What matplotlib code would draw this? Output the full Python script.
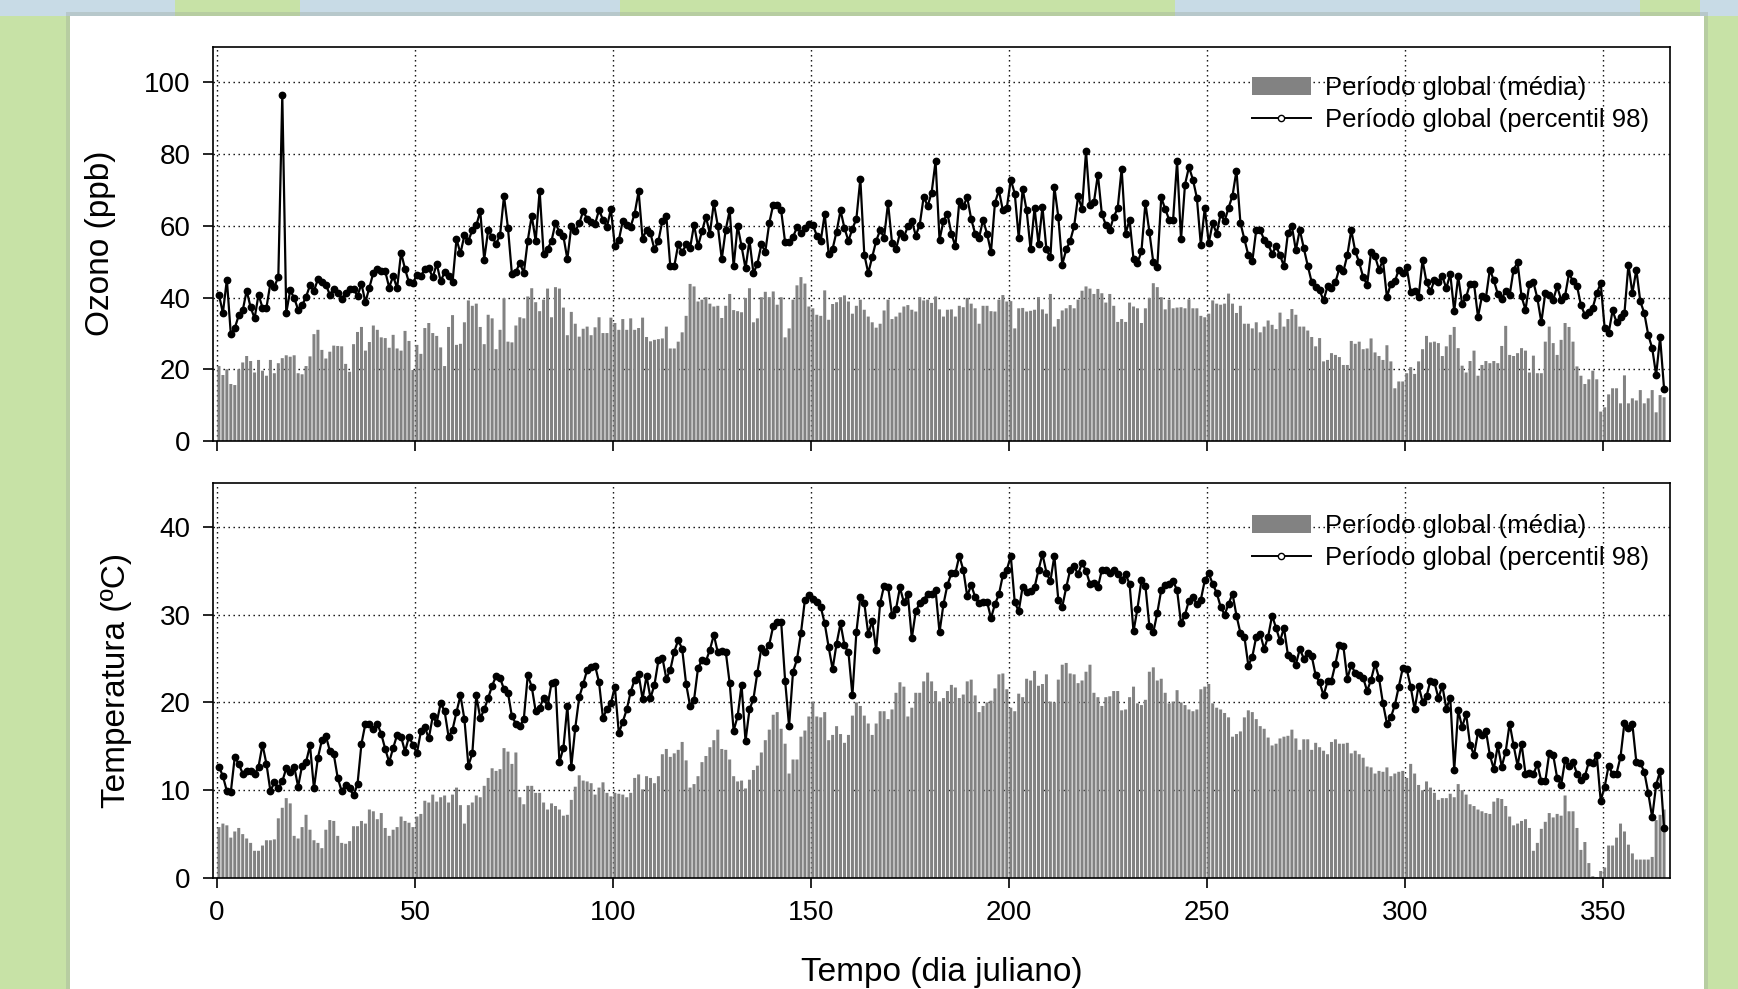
import numpy as np
import matplotlib
matplotlib.use("Agg")
import matplotlib.pyplot as plt
from matplotlib.patches import Rectangle
from matplotlib.lines import Line2D

plt.rcParams['font.family'] = ['Liberation Sans', 'DejaVu Sans']

# ---- data ----
days = np.arange(366) + 0.5

ozono_media = [
    20.9, 18.4, 20.0, 15.9, 15.6, 20.0, 21.9, 23.7, 22.3, 19.1,
    22.6, 19.6, 18.2, 22.6, 18.9, 21.7, 23.1, 23.9, 23.5, 23.9,
    18.9, 18.6, 20.9, 23.6, 29.8, 31.0, 25.4, 23.0, 24.9, 26.6,
    26.5, 26.4, 21.5, 19.3, 27.0, 30.4, 31.8, 25.2, 27.6, 32.2,
    31.0, 28.9, 28.7, 26.0, 29.6, 25.8, 25.2, 30.7, 27.9, 19.8,
    26.8, 24.3, 31.5, 32.9, 30.1, 29.3, 26.1, 20.9, 31.8, 35.1,
    26.8, 27.1, 33.1, 39.2, 37.7, 38.3, 31.8, 27.0, 35.2, 34.2,
    25.6, 31.0, 39.8, 27.7, 27.5, 32.2, 34.5, 34.2, 40.3, 42.6,
    38.7, 36.2, 39.4, 42.5, 34.5, 42.9, 42.5, 37.2, 29.5, 36.0,
    32.7, 29.1, 31.3, 31.9, 29.5, 31.7, 34.5, 30.1, 30.1, 34.4,
    32.9, 31.0, 34.0, 31.0, 34.2, 31.0, 31.5, 34.4, 29.0, 27.8,
    28.2, 28.4, 28.6, 31.9, 25.8, 25.8, 27.7, 30.3, 34.9, 43.8,
    43.1, 38.9, 39.4, 40.1, 38.3, 37.5, 37.7, 34.3, 37.7, 41.0,
    36.5, 36.2, 35.9, 39.9, 42.6, 33.1, 34.2, 40.1, 41.6, 40.1,
    41.7, 38.0, 40.1, 28.9, 31.4, 39.4, 43.4, 45.7, 43.9, 37.5,
    37.0, 35.2, 34.9, 42.0, 33.8, 38.2, 38.7, 40.1, 40.6, 38.9,
    35.5, 37.7, 39.4, 36.6, 34.7, 33.1, 31.6, 32.7, 36.4, 39.4,
    34.0, 34.7, 35.8, 37.5, 37.9, 36.6, 36.1, 40.1, 39.2, 39.4,
    38.5, 40.3, 36.7, 34.7, 36.6, 36.7, 34.7, 37.7, 37.3, 39.9,
    38.3, 37.0, 32.7, 37.7, 37.7, 36.2, 36.1, 39.4, 40.7, 38.9,
    39.0, 31.4, 37.0, 37.1, 36.1, 36.3, 36.6, 40.1, 36.7, 35.5,
    41.0, 31.9, 34.0, 36.4, 37.0, 37.9, 37.0, 39.4, 41.9, 43.1,
    42.5, 41.0, 42.4, 41.2, 38.6, 41.0, 37.7, 33.2, 34.0, 33.2,
    38.6, 37.5, 37.0, 32.9, 37.0, 39.9, 44.0, 42.9, 40.1, 36.7,
    39.4, 37.0, 37.2, 37.3, 37.0, 39.5, 37.0, 37.0, 34.9, 34.5,
    35.5, 39.2, 38.3, 38.0, 38.3, 41.1, 38.3, 35.7, 37.7, 32.7,
    32.7, 31.4, 33.1, 30.3, 31.9, 33.6, 32.4, 31.2, 35.8, 31.9,
    34.0, 36.8, 35.2, 31.9, 31.9, 30.8, 29.0, 26.4, 28.7, 22.2,
    22.6, 24.5, 24.0, 23.4, 21.2, 21.2, 27.9, 27.1, 27.7, 25.6,
    25.8, 28.6, 24.7, 23.7, 22.6, 26.7, 22.2, 14.7, 16.6, 16.6,
    18.9, 20.6, 18.7, 22.2, 25.6, 29.3, 27.5, 27.7, 27.3, 23.7,
    26.4, 29.6, 31.8, 25.9, 21.0, 19.1, 22.3, 25.2, 18.2, 21.2,
    22.3, 21.7, 22.3, 21.7, 26.5, 32.1, 24.0, 23.7, 24.5, 25.9,
    25.2, 19.1, 23.8, 18.9, 18.9, 27.7, 31.9, 27.3, 24.0, 28.2,
    32.9, 31.8, 27.7, 20.8, 18.2, 15.9, 17.2, 19.6, 17.2, 8.2,
    9.4, 13.0, 14.7, 14.7, 10.5, 18.3, 10.5, 11.9, 11.3, 14.2,
    10.5, 11.9, 14.2, 8.0, 12.8, 12.2]

ozono_p98 = [
    40.8, 35.7, 45.0, 29.8, 31.5, 35.0, 36.4, 41.9, 37.3, 34.2,
    40.8, 37.2, 37.2, 44.0, 43.0, 45.8, 96.5, 35.7, 42.0, 39.9,
    36.6, 37.8, 40.2, 43.4, 41.8, 45.2, 44.3, 43.6, 40.8, 42.4,
    41.4, 39.7, 41.2, 42.3, 42.3, 40.5, 43.8, 38.7, 42.8, 46.9,
    48.0, 47.5, 47.3, 42.8, 46.0, 42.6, 52.5, 48.0, 44.2, 44.0,
    46.4, 45.9, 48.0, 48.2, 45.6, 49.4, 44.6, 47.0, 45.9, 44.2,
    56.3, 52.3, 57.4, 55.8, 58.8, 60.1, 64.1, 50.6, 58.8, 56.9,
    55.0, 57.4, 68.3, 59.4, 46.5, 47.1, 49.7, 46.8, 55.9, 62.8,
    55.8, 69.8, 52.2, 53.5, 55.8, 60.8, 58.2, 57.1, 50.7, 59.9,
    58.6, 60.7, 64.1, 61.9, 61.1, 60.5, 64.4, 61.7, 59.7, 64.7,
    54.3, 56.0, 61.4, 60.2, 59.8, 63.4, 69.6, 56.4, 58.9, 57.9,
    53.4, 55.8, 61.4, 62.8, 48.7, 48.7, 54.8, 52.6, 54.8, 53.8,
    60.3, 54.3, 58.5, 62.5, 57.8, 66.4, 60.0, 50.7, 58.9, 64.3,
    48.7, 60.0, 54.3, 48.1, 56.0, 46.8, 49.4, 54.8, 52.8, 60.8,
    65.9, 65.9, 64.3, 55.4, 55.4, 56.9, 59.6, 58.0, 59.4, 60.4,
    60.3, 57.3, 55.8, 63.3, 52.2, 53.6, 58.4, 64.3, 59.3, 55.8,
    59.2, 61.9, 73.1, 52.0, 46.8, 51.3, 55.8, 58.8, 56.7, 66.4,
    55.3, 53.4, 57.9, 56.8, 59.9, 61.4, 57.3, 60.3, 68.1, 65.5,
    69.2, 78.0, 56.1, 61.4, 63.4, 57.8, 54.3, 66.8, 65.5, 67.9,
    61.9, 57.8, 56.7, 61.7, 57.8, 52.7, 66.4, 69.9, 64.3, 65.0,
    72.9, 69.0, 56.7, 70.3, 64.3, 53.4, 65.0, 54.9, 65.3, 53.4,
    51.2, 70.9, 62.5, 49.2, 53.4, 55.8, 59.9, 68.2, 64.7, 80.8,
    65.9, 66.6, 74.3, 63.3, 60.3, 58.8, 62.5, 64.9, 75.9, 57.8,
    61.7, 50.7, 49.6, 52.9, 66.4, 58.3, 49.8, 48.5, 67.9, 64.7,
    61.7, 61.7, 78.0, 56.2, 71.5, 76.4, 72.9, 67.8, 54.7, 65.0,
    55.2, 60.8, 57.8, 63.3, 61.3, 65.0, 68.4, 75.4, 60.8, 56.3,
    51.8, 50.1, 58.9, 58.8, 56.1, 54.9, 52.2, 54.3, 51.8, 48.7,
    58.0, 59.9, 53.2, 58.9, 53.8, 48.9, 44.3, 42.9, 42.0, 39.2,
    43.1, 42.8, 44.3, 48.2, 47.3, 51.8, 58.8, 52.9, 49.8, 45.7,
    43.6, 52.7, 51.5, 47.8, 50.4, 40.1, 43.9, 44.5, 47.8, 46.8,
    48.4, 41.5, 41.7, 40.1, 50.4, 44.3, 41.7, 44.8, 44.4, 45.9,
    42.6, 46.6, 36.2, 45.9, 38.2, 40.1, 43.9, 43.9, 34.6, 40.3,
    39.9, 47.8, 44.8, 41.0, 39.6, 41.9, 40.7, 47.8, 49.8, 40.3,
    36.6, 43.9, 44.3, 39.8, 33.1, 41.2, 40.8, 39.4, 43.1, 39.4,
    40.5, 46.8, 44.5, 43.3, 37.9, 35.2, 36.1, 37.2, 41.2, 44.0,
    31.4, 30.1, 36.4, 33.1, 34.5, 35.7, 49.2, 41.2, 47.8, 38.9,
    35.7, 29.6, 25.9, 18.4, 28.9, 14.6]

temp_media = [
    5.8, 6.2, 6.0, 4.6, 5.3, 5.7, 5.0, 4.5, 4.0, 3.1,
    3.1, 3.7, 4.3, 4.3, 4.4, 6.8, 8.0, 9.1, 8.5, 4.8,
    4.5, 5.8, 7.2, 5.5, 4.3, 4.0, 3.4, 5.5, 6.6, 6.5,
    4.8, 4.0, 3.9, 4.2, 5.9, 5.9, 6.5, 6.2, 7.8, 7.6,
    6.7, 7.4, 5.7, 4.8, 5.5, 5.8, 7.0, 6.5, 6.3, 5.8,
    7.0, 7.3, 8.8, 8.6, 9.5, 8.7, 9.2, 9.4, 8.6, 9.5,
    10.3, 8.3, 6.2, 8.3, 8.6, 9.4, 9.2, 10.5, 11.4, 12.5,
    12.2, 12.4, 14.8, 14.4, 13.0, 14.3, 9.2, 8.4, 10.5, 10.5,
    9.7, 9.7, 8.6, 7.8, 8.5, 8.2, 7.8, 7.1, 7.2, 8.9,
    10.4, 11.7, 11.1, 11.0, 10.8, 9.5, 10.3, 10.9, 9.7, 9.3,
    9.7, 9.6, 9.5, 9.2, 9.7, 11.4, 11.8, 10.1, 11.6, 11.4,
    10.8, 11.6, 14.1, 14.7, 13.8, 14.2, 14.6, 15.5, 13.4, 10.3,
    10.7, 11.6, 13.2, 13.9, 14.9, 15.7, 16.9, 14.7, 14.6, 13.5,
    11.6, 11.0, 11.1, 10.2, 11.2, 12.3, 12.8, 14.3, 15.7, 16.9,
    18.6, 18.9, 17.0, 15.3, 11.9, 13.5, 13.5, 16.1, 16.8, 18.4,
    20.1, 18.4, 18.3, 18.9, 15.7, 16.3, 17.3, 16.4, 15.4, 16.3,
    18.5, 20.0, 19.6, 18.5, 17.6, 16.3, 17.6, 19.0, 19.0, 18.1,
    19.2, 21.1, 22.3, 21.8, 18.4, 19.4, 21.1, 21.1, 22.4, 23.4,
    22.4, 21.3, 20.1, 20.5, 21.3, 22.0, 21.7, 20.5, 20.9, 22.4,
    22.6, 20.8, 18.9, 19.6, 20.0, 20.2, 21.6, 23.2, 23.3, 21.5,
    19.4, 19.0, 21.0, 20.6, 22.7, 22.5, 23.6, 21.9, 22.1, 23.2,
    20.1, 20.0, 22.6, 24.3, 24.5, 23.3, 23.2, 22.2, 22.5, 23.5,
    24.3, 21.1, 20.6, 19.6, 20.6, 20.7, 21.3, 21.3, 19.1, 19.2,
    20.6, 21.8, 19.9, 19.7, 20.3, 23.5, 24.0, 22.5, 22.7, 21.1,
    19.9, 20.1, 21.4, 20.0, 19.7, 19.2, 19.0, 19.2, 21.5, 21.8,
    22.1, 19.9, 19.4, 19.2, 18.8, 18.3, 16.1, 16.4, 16.7, 18.3,
    19.1, 18.9, 18.1, 17.3, 17.0, 16.0, 15.1, 15.3, 15.9, 16.1,
    16.2, 16.9, 15.9, 14.6, 15.8, 15.8, 14.6, 15.4, 14.9, 14.5,
    14.1, 15.5, 15.8, 15.3, 15.3, 15.4, 14.2, 14.5, 14.1, 13.7,
    12.7, 12.6, 11.9, 12.2, 12.1, 12.6, 11.6, 11.9, 12.1, 12.2,
    11.4, 13.0, 11.9, 10.6, 10.0, 11.0, 10.3, 9.7, 8.9, 9.1,
    9.1, 9.6, 9.2, 10.7, 10.0, 9.5, 8.4, 8.2, 7.8, 7.6,
    7.4, 7.3, 8.7, 9.1, 9.0, 8.2, 7.0, 6.0, 6.2, 6.5,
    6.7, 5.7, 3.1, 4.0, 5.6, 6.4, 7.4, 6.9, 7.3, 7.1,
    9.4, 7.6, 7.6, 5.7, 3.2, 4.1, 1.7, 0.2, 0.1, 0.8,
    1.2, 3.7, 3.7, 4.6, 6.2, 5.3, 3.8, 2.8, 2.1, 2.1,
    2.1, 2.1, 2.4, 6.6, 7.2, 7.8]

temp_p98 = [
    12.7, 11.6, 9.9, 9.8, 13.8, 13.0, 11.9, 12.2, 12.2, 11.8,
    12.7, 15.2, 13.0, 9.9, 10.9, 10.2, 11.0, 12.5, 12.1, 12.7,
    10.4, 12.8, 13.2, 15.1, 10.2, 13.7, 15.7, 16.2, 14.5, 14.1,
    11.4, 9.9, 10.6, 10.2, 9.4, 10.7, 15.3, 17.6, 17.5, 17.0,
    17.6, 16.4, 14.7, 13.2, 14.8, 16.3, 16.1, 14.4, 16.1, 15.2,
    14.2, 16.7, 17.2, 15.9, 18.4, 17.7, 19.9, 19.0, 16.1, 16.9,
    18.9, 20.8, 18.1, 12.8, 14.2, 20.8, 18.2, 19.2, 20.5, 21.9,
    23.0, 22.8, 21.5, 21.1, 18.4, 17.6, 17.3, 18.1, 23.1, 21.8,
    19.0, 19.4, 20.5, 19.6, 22.2, 22.3, 13.2, 14.8, 19.6, 12.7,
    17.1, 20.6, 22.1, 23.7, 24.0, 24.2, 22.3, 18.2, 19.3, 19.9,
    21.8, 16.5, 17.8, 19.2, 21.2, 22.6, 23.2, 20.4, 23.0, 20.5,
    22.0, 24.8, 25.1, 22.7, 23.7, 25.8, 27.1, 26.1, 22.1, 19.6,
    20.3, 23.9, 24.8, 24.7, 26.0, 27.7, 25.7, 25.9, 25.8, 22.2,
    16.8, 18.4, 22.0, 15.6, 19.2, 20.4, 23.4, 26.2, 25.8, 26.6,
    28.7, 29.2, 29.2, 22.5, 17.3, 23.5, 24.9, 27.9, 31.7, 32.2,
    31.8, 31.5, 30.9, 29.0, 26.3, 23.8, 26.7, 29.0, 26.5, 25.7,
    20.8, 28.0, 32.0, 31.3, 27.8, 29.3, 26.0, 31.3, 33.3, 33.2,
    30.0, 30.6, 33.1, 31.4, 32.3, 27.3, 30.4, 31.3, 31.7, 32.4,
    32.4, 32.8, 28.0, 31.2, 33.4, 34.7, 34.7, 36.7, 35.1, 32.1,
    33.4, 32.0, 31.3, 31.5, 31.5, 29.6, 31.2, 32.3, 34.5, 35.1,
    36.7, 31.4, 30.4, 33.2, 32.6, 32.7, 33.1, 35.1, 36.9, 34.8,
    33.8, 36.7, 31.7, 30.9, 33.1, 35.1, 35.5, 34.6, 35.9, 35.0,
    33.5, 33.6, 33.1, 35.1, 35.1, 34.8, 35.1, 34.6, 34.0, 34.6,
    33.5, 28.1, 30.7, 33.9, 33.3, 28.7, 28.0, 30.2, 32.8, 33.4,
    33.5, 33.8, 32.8, 29.0, 30.0, 31.6, 32.0, 31.2, 31.7, 33.9,
    34.7, 33.5, 32.5, 30.9, 30.0, 31.2, 32.4, 29.9, 27.9, 27.5,
    24.2, 25.2, 27.5, 27.8, 26.1, 27.5, 29.9, 28.5, 27.0, 28.5,
    25.4, 25.1, 24.3, 26.1, 25.0, 25.6, 25.3, 23.1, 22.3, 20.8,
    22.4, 22.5, 24.4, 26.6, 26.4, 22.7, 24.3, 23.3, 23.1, 22.8,
    21.3, 22.6, 24.4, 22.8, 19.9, 17.6, 18.3, 19.7, 21.8, 23.9,
    23.8, 21.8, 19.2, 21.9, 20.1, 20.7, 22.5, 22.3, 20.5, 21.9,
    19.3, 20.5, 12.3, 19.1, 17.2, 18.7, 15.2, 14.0, 16.6, 16.3,
    16.8, 14.0, 12.4, 15.1, 12.7, 14.4, 17.6, 15.1, 12.8, 15.3,
    11.9, 12.0, 11.8, 13.0, 11.0, 11.0, 14.2, 14.0, 11.4, 10.6,
    13.4, 12.8, 13.2, 11.9, 11.2, 11.6, 13.2, 13.1, 14.0, 8.8,
    10.4, 12.8, 11.8, 11.9, 13.8, 17.7, 17.1, 17.5, 13.2, 13.1,
    12.1, 9.7, 6.9, 10.6, 12.2, 5.7]

W, H = 1738, 989
bar_color = '#828282'
lbl_media = 'Período global (média)'
lbl_p98 = 'Período global (percentil 98)'

fig = plt.figure(figsize=(W / 100, H / 100), dpi=100)
fig.patch.set_facecolor('#c7e2a6')


def rect_px(x0, y0, x1, y1, **kw):
    # pixel box measured from the top-left corner of the picture
    return Rectangle((x0 / W, 1 - y1 / H), (x1 - x0) / W, (y1 - y0) / H,
                     transform=fig.transFigure, **kw)


# slide background: light blue blobs along the top edge
for x0, x1 in [(0, 175), (300, 620), (1175, 1640), (1700, 1738)]:
    fig.add_artist(rect_px(x0, 0, x1, 16, facecolor='#c8dbe6', edgecolor='none', zorder=0))
# white panel with a soft shadow
fig.add_artist(rect_px(66, 12, 1708, 995, facecolor='#9aa69a', alpha=0.35,
                       edgecolor='none', zorder=0))
fig.add_artist(rect_px(70, 15.5, 1704, 995, facecolor='white', edgecolor='none', zorder=0))

ax1 = fig.add_axes([213 / W, 1 - 441 / H, (1670 - 213) / W, (441 - 46.5) / H])
ax2 = fig.add_axes([213 / W, 1 - 878 / H, (1670 - 213) / W, (878 - 483) / H])

panels = [
    (ax1, ozono_media, ozono_p98, (0, 110), np.arange(0, 101, 20), 'Ozono (ppb)', 100, 0.924),
    (ax2, temp_media, temp_p98, (0, 45), np.arange(0, 41, 10), 'Temperatura (ºC)', 116, 0.921),
]

for ax, media, p98, ylim, yticks, ylabel, ylab_x, leg_y in panels:
    bars = ax.bar(days, media, width=0.76, color=bar_color, linewidth=0, zorder=2)
    for b in bars:
        b.set_snap(False)
    ax.plot(days, p98, color='black', lw=1.6, marker='o', ms=4.6, zorder=3)
    ax.set_xlim(-1, 367)
    ax.set_ylim(*ylim)
    ax.set_xticks(np.arange(0, 351, 50))
    ax.set_yticks(yticks)
    ax.set_axisbelow(True)
    ax.grid(True, color='black', linestyle=(0, (1, 2.6)), linewidth=1.0)
    ax.tick_params(direction='out', length=7, width=1.2, labelsize=20, pad=9)
    for sp in ax.spines.values():
        sp.set_linewidth(1.2)
    ax.set_ylabel(ylabel, fontsize=24, va='center')
    ax.yaxis.set_label_coords((ylab_x - 213) / 1457, 0.5)

    p98_handle = Line2D([], [], color='black', lw=1.4, marker='o', ms=4.5,
                        markerfacecolor='white', markeredgecolor='black')
    ax.legend([bars, p98_handle], [lbl_media, lbl_p98], loc='upper left',
              bbox_to_anchor=(0.713, leg_y), frameon=False, fontsize=18.5,
              borderpad=0, borderaxespad=0, handlelength=2.3,
              handletextpad=0.55, labelspacing=0.29)

ax1.tick_params(labelbottom=False)
ax2.set_xlabel('Tempo (dia juliano)', fontsize=24, va='center')
ax2.xaxis.set_label_coords(0.5, (878 - 973) / 395)

fig.savefig('out.png', dpi=100, facecolor=fig.get_facecolor())
